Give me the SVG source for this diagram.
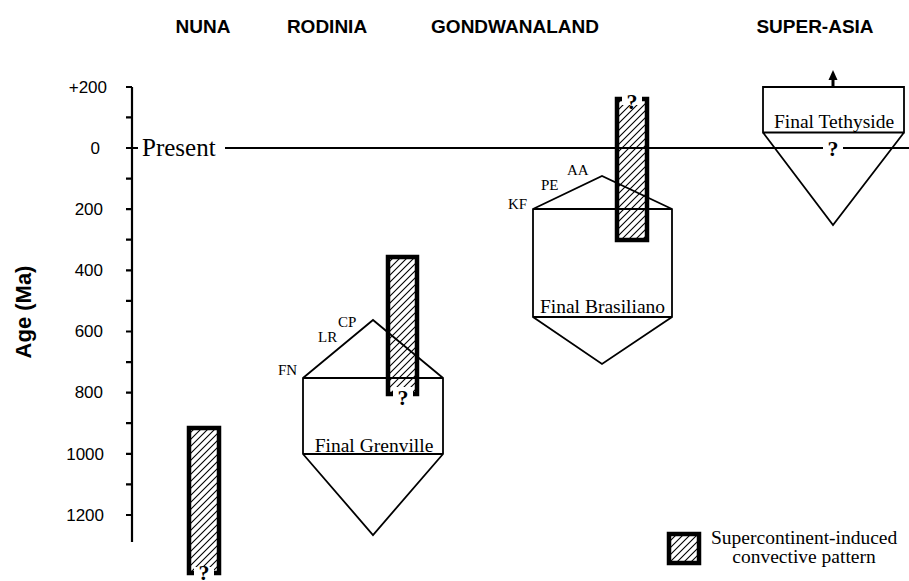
<svg xmlns="http://www.w3.org/2000/svg" width="909" height="581" viewBox="0 0 909 581">
<defs>
<pattern id="hatch" patternUnits="userSpaceOnUse" width="7" height="7">
<path d="M-1,8 L8,-1 M-2,2 L2,-2 M5,9 L9,5" stroke="#000" stroke-width="1.1" fill="none"/>
</pattern>
</defs>
<style>
.title{font-family:"Liberation Sans",Arial,sans-serif;font-weight:bold;font-size:19px;text-anchor:middle;fill:#000}
.tick{font-family:"Liberation Sans",Arial,sans-serif;font-size:17px;text-anchor:end;fill:#000}
.ser{font-family:"Liberation Serif","Times New Roman",serif;fill:#000}
.lab{font-size:15px}
.big{font-size:19.5px}
.q{font-family:"Liberation Serif","Times New Roman",serif;font-weight:bold;font-size:22px;text-anchor:middle;fill:#000}
.shape{fill:none;stroke:#000;stroke-width:1.8;stroke-linejoin:miter}
.hl{stroke:#000;stroke-width:2.2}
.bar{fill:url(#hatch);stroke:#000;stroke-width:4.5}
.gap{fill:#fff}
.ax{stroke:#000;stroke-width:2.2;fill:none}
</style>
<rect width="909" height="581" fill="#fff"/>

<g id="titles">
<text class="title" x="203" y="33">NUNA</text>
<text class="title" x="327" y="33">RODINIA</text>
<text class="title" x="515" y="33">GONDWANALAND</text>
<text class="title" x="815" y="33">SUPER-ASIA</text>
</g>

<g id="axis">
<text x="31" y="312" transform="rotate(-90 31 312)" style="font-family:'Liberation Sans',Arial,sans-serif;font-weight:bold;font-size:22px;text-anchor:middle">Age (Ma)</text>
<path class="ax" d="M132,87 V542 M126,87 H132 M126,117.4 H132 M126,148 H138 M126,178.6 H132 M126,209.2 H132 M126,239.7 H132 M126,270.3 H132 M126,300.9 H132 M126,331.5 H132 M126,362.1 H132 M126,392.6 H132 M126,423.2 H132 M126,453.8 H132 M126,484.4 H132 M126,515 H132"/>
<text class="tick" x="107" y="93">+200</text>
<text class="tick" x="100" y="154">0</text>
<text class="tick" x="103" y="215">200</text>
<text class="tick" x="103" y="276">400</text>
<text class="tick" x="103" y="337">600</text>
<text class="tick" x="103" y="398">800</text>
<text class="tick" x="104" y="460">1000</text>
<text class="tick" x="104" y="521">1200</text>
<text class="ser" x="142" y="156" style="font-size:25px">Present</text>
<path class="ax" d="M225,148 H823 M843,148 H909"/>
</g>

<g id="nuna">
<rect class="bar" x="189" y="428" width="30" height="145"/>
<rect class="gap" x="194" y="567" width="20" height="14"/>
<text class="q" x="204" y="580">?</text>
</g>

<g id="rodinia">
<path class="shape" d="M303,378 L373,320 L443,378 V454 L373,535 L303,454 Z"/>
<path class="hl" d="M303,378 H443 M303,454 H443"/>
<text class="ser lab" x="278" y="375">FN</text>
<text class="ser lab" x="318" y="342">LR</text>
<text class="ser lab" x="338" y="327">CP</text>
<text class="ser big" x="374" y="452" text-anchor="middle">Final Grenville</text>
<rect class="bar" x="388" y="257" width="29" height="137"/>
<rect class="gap" x="393" y="387" width="20" height="11"/>
<text class="q" x="403" y="405">?</text>
</g>

<g id="gondwanaland">
<path class="shape" d="M533,209 L602,176 L672,209 V317 L602,364 L533,317 Z"/>
<path class="hl" d="M533,209 H672 M533,317 H672"/>
<text class="ser lab" x="508" y="209">KF</text>
<text class="ser lab" x="541" y="190">PE</text>
<text class="ser lab" x="567" y="175">AA</text>
<text class="ser big" x="602.5" y="313" text-anchor="middle">Final Brasiliano</text>
<rect class="bar" x="617" y="99" width="30" height="141"/>
<rect class="gap" x="622" y="93" width="20" height="12"/>
<text class="q" x="632" y="109">?</text>
</g>

<g id="super-asia">
<path class="shape" d="M763,87 H904 V132.5 H763 Z M763,132.5 L833,225 L904,132.5"/>
<text class="ser big" x="834" y="128" text-anchor="middle">Final Tethyside</text>
<text class="q" x="833" y="156">?</text>
</g>

<g id="connectors">
<path d="M833,87 V79" stroke="#000" stroke-width="3" fill="none"/>
<polygon points="833,70 828.5,80 837.5,80" fill="#000"/>
</g>

<g id="legend">
<rect class="bar" x="669" y="534" width="30" height="29"/>
<text class="ser big" x="711" y="544">Supercontinent-induced</text>
<text class="ser big" x="804" y="563" text-anchor="middle">convective pattern</text>
</g>
</svg>
